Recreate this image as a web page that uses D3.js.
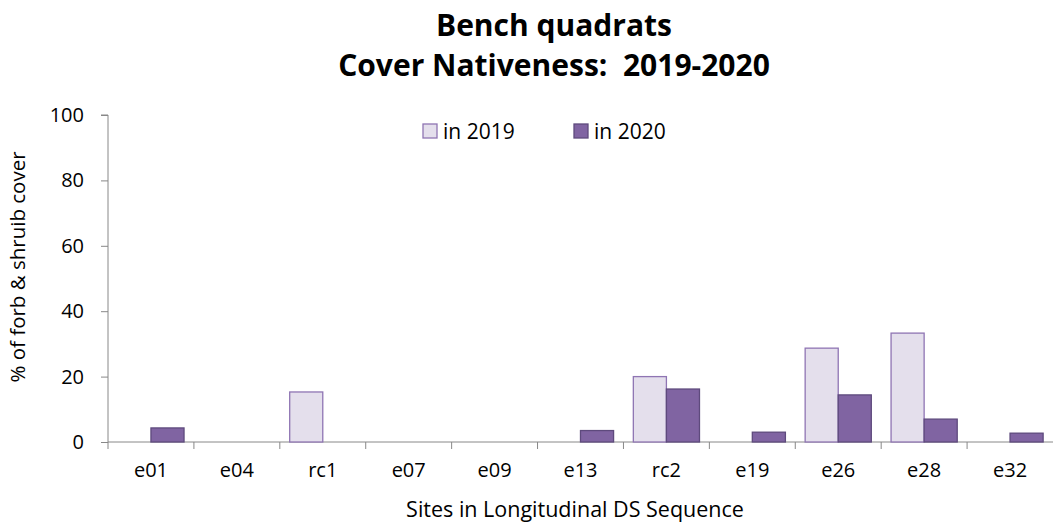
<!DOCTYPE html>
<html>
<head>
<meta charset="utf-8">
<script src="https://cdn.jsdelivr.net/npm/d3@7"></script>
<style>
  body { margin: 0; background: #fff; }
  text { font-family: "Open Sans", "Noto Sans", sans-serif; fill: #000; white-space: pre; }
</style>
</head>
<body>
<script>
const sites = ["e01", "e04", "rc1", "e07", "e09", "e13", "rc2", "e19", "e26", "e28", "e32"];
const years = ["in 2019", "in 2020"];
const cover2019 = [0, 0, 15.3, 0, 0, 0, 20.0, 0, 28.7, 33.3, 0];
const cover2020 = [4.3, 0, 0, 0, 0, 3.5, 16.2, 3.0, 14.4, 7.0, 2.7];
const yTicks = [0, 20, 40, 60, 80, 100];

const width = 1053, height = 528;
const plotLeft = 108, plotRight = 1053, plotTop = 115, plotBottom = 442;

const svg = d3.select("body").append("svg")
  .attr("width", width).attr("height", height);

const x0 = d3.scaleBand().domain(sites).range([plotLeft, plotRight]).paddingInner(0.23).paddingOuter(0.115);
const x1 = d3.scaleBand().domain(years).range([0, x0.bandwidth()]);
const y = d3.scaleLinear().domain([0, 100]).range([plotBottom, plotTop]);

const fills = { "in 2019": "#e4dfec", "in 2020": "#8064a2" };
const strokes = { "in 2019": "#8f75b3", "in 2020": "#5e4a7d" };

// title
svg.append("text").attr("x", 554).attr("y", 36).attr("text-anchor", "middle")
  .style("font-size", "30px").style("font-weight", "bold").text("Bench quadrats");
svg.append("text").attr("x", 554).attr("y", 76).attr("text-anchor", "middle")
  .style("font-size", "30px").style("font-weight", "bold").text("Cover Nativeness:  2019-2020");

// y axis
const yAxis = svg.append("g").attr("transform", `translate(${plotLeft},0)`)
  .call(d3.axisLeft(y).tickValues(yTicks).tickSize(7).tickPadding(17));
yAxis.select(".domain").attr("stroke", "#888").attr("d", `M-7,${plotTop}H0V${plotBottom}`);
yAxis.selectAll(".tick line").attr("stroke", "#888");
yAxis.selectAll(".tick text").style("font-size", "20px").style("font-family", "Open Sans, sans-serif");

// x axis
const xAxis = svg.append("g").attr("transform", `translate(0,${plotBottom})`)
  .call(d3.axisBottom(x0).tickSize(0).tickPadding(21));
xAxis.select(".domain").attr("stroke", "#888").attr("d", `M${plotLeft},0H${plotRight}`);
xAxis.selectAll(".tick text").style("font-size", "20px").style("font-family", "Open Sans, sans-serif");
const step = x0.step();
sites.forEach(s => {
  const xb = x0(s) - x0.paddingInner() * step / 2;
  xAxis.append("line").attr("x1", xb).attr("x2", xb).attr("y1", 0).attr("y2", 7).attr("stroke", "#888");
});

// bars
const rows = sites.map((s, i) => ({ site: s, values: [
  { year: "in 2019", v: cover2019[i] },
  { year: "in 2020", v: cover2020[i] }
] }));

svg.selectAll("g.site").data(rows).enter().append("g")
  .attr("class", "site")
  .attr("transform", d => `translate(${x0(d.site)},0)`)
  .selectAll("rect")
  .data(d => d.values.filter(v => v.v > 0))
  .enter().append("rect")
  .attr("x", d => x1(d.year))
  .attr("y", d => y(d.v))
  .attr("width", x1.bandwidth())
  .attr("height", d => plotBottom - y(d.v))
  .attr("fill", d => fills[d.year])
  .attr("stroke", d => strokes[d.year])
  .attr("stroke-width", 1.3);

// axis titles
svg.append("text").attr("transform", "translate(25,267) rotate(-90)")
  .attr("text-anchor", "middle").style("font-size", "20.5px").text("% of forb & shruib cover");
svg.append("text").attr("x", 575).attr("y", 517).attr("text-anchor", "middle")
  .style("font-size", "21.5px").text("Sites in Longitudinal DS Sequence");

// legend
const legendX = [423, 574];
years.forEach((yr, i) => {
  svg.append("rect").attr("x", legendX[i]).attr("y", 124).attr("width", 14).attr("height", 14)
    .attr("fill", fills[yr]).attr("stroke", strokes[yr]).attr("stroke-width", 1.3);
  svg.append("text").attr("x", legendX[i] + 20).attr("y", 139)
    .style("font-size", "21px").text(yr);
});
</script>
</body>
</html>
